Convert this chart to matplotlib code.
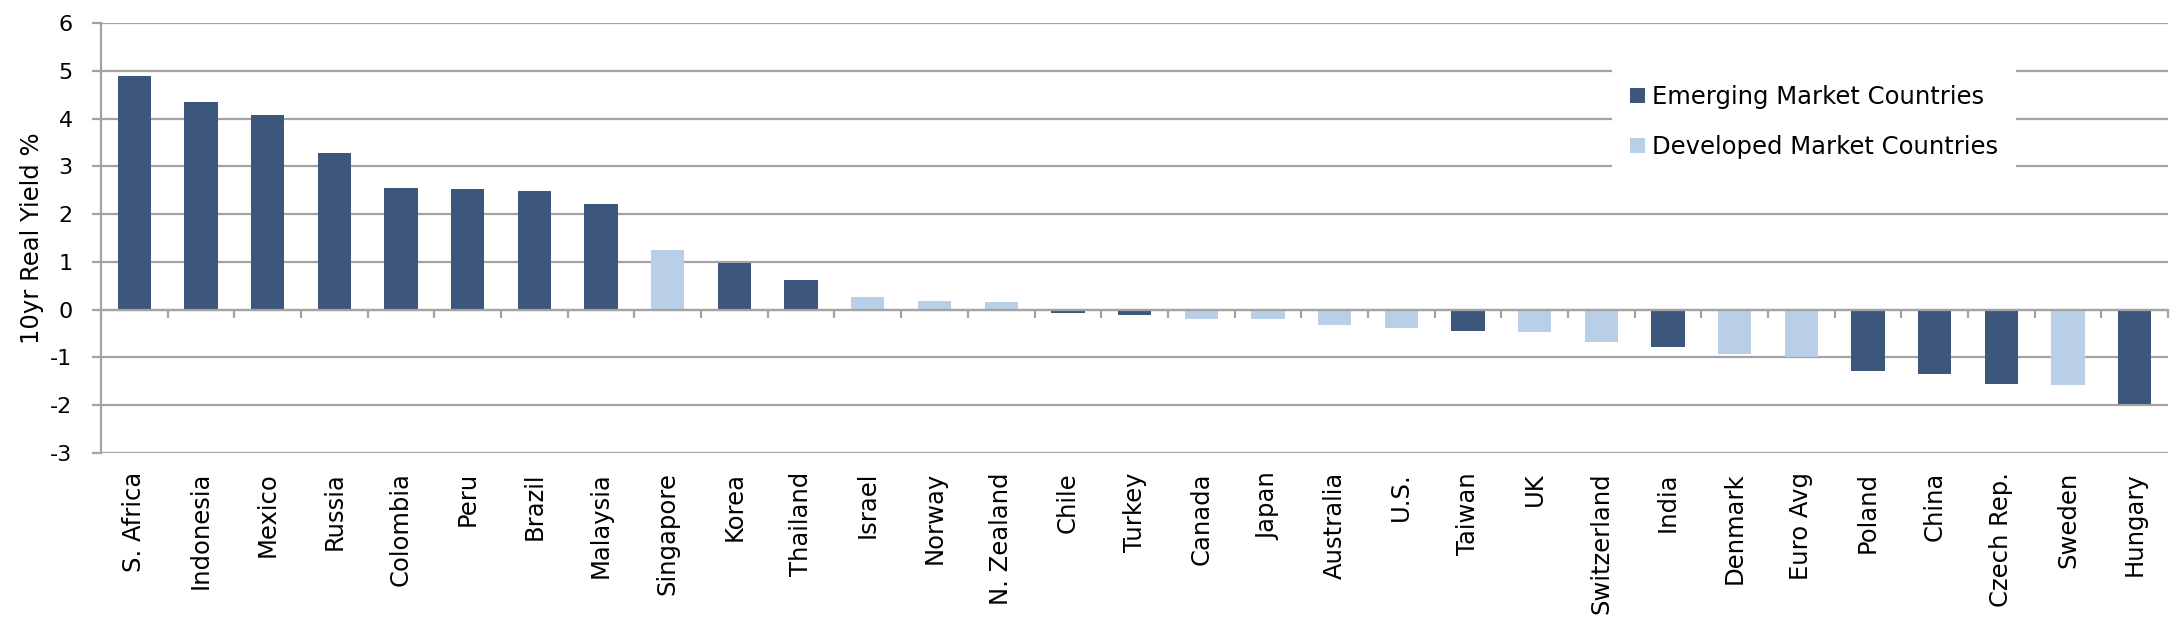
import matplotlib
matplotlib.use("Agg")
import matplotlib.pyplot as plt
from matplotlib.patches import Patch
import numpy as np

countries = ["S. Africa", "Indonesia", "Mexico", "Russia", "Colombia", "Peru", "Brazil",
             "Malaysia", "Singapore", "Korea", "Thailand", "Israel", "Norway", "N. Zealand",
             "Chile", "Turkey", "Canada", "Japan", "Australia", "U.S.", "Taiwan", "UK",
             "Switzerland", "India", "Denmark", "Euro Avg", "Poland", "China", "Czech Rep.",
             "Sweden", "Hungary"]
yields = [4.90, 4.34, 4.07, 3.28, 2.54, 2.52, 2.48, 2.22, 1.25, 0.98, 0.62, 0.26, 0.17, 0.16,
          -0.07, -0.12, -0.19, -0.20, -0.32, -0.38, -0.46, -0.47, -0.67, -0.79, -0.93, -0.99,
          -1.28, -1.35, -1.56, -1.59, -1.99]
groups = ["EM", "EM", "EM", "EM", "EM", "EM", "EM", "EM", "DM", "EM", "EM", "DM", "DM", "DM",
          "EM", "EM", "DM", "DM", "DM", "DM", "EM", "DM", "DM", "EM", "DM", "DM",
          "EM", "EM", "EM", "DM", "EM"]
yticks = [-3, -2, -1, 0, 1, 2, 3, 4, 5, 6]

EM_COLOR = "#3D577C"
DM_COLOR = "#B9CFE7"
GRID = "#A3A3A3"

plt.rcParams['font.family'] = ['DejaVu Sans']

fig = plt.figure(figsize=(21.78, 6.23), dpi=100)
ax = fig.add_axes([0.0464, 0.2734, 0.949, 0.6892])

x = np.arange(len(countries))
colors = [EM_COLOR if g == "EM" else DM_COLOR for g in groups]
ax.bar(x, yields, width=0.5, color=colors, zorder=3)

ax.set_xlim(-0.5, len(countries) - 0.5)
ax.set_ylim(-3, 6)
ax.set_yticks(yticks)
ax.set_yticklabels([str(t) for t in yticks])
ax.yaxis.grid(True, color=GRID, linewidth=1.6, zorder=0)
ax.set_axisbelow(True)

for s in ["top", "right"]:
    ax.spines[s].set_visible(False)
ax.spines["left"].set_color(GRID)
ax.spines["left"].set_linewidth(1.6)
ax.spines["bottom"].set_position(("data", 0))
ax.spines["bottom"].set_color(GRID)
ax.spines["bottom"].set_linewidth(1.6)
ax.spines["bottom"].set_zorder(4)

ax.tick_params(axis="y", colors=GRID, labelcolor="black", labelsize=16, length=6.5, width=1.6, pad=14)
ax.set_xticks(x)
ax.set_xticklabels([])
ax.tick_params(axis="x", which="major", length=0)
ax.set_xticks(np.arange(len(countries) + 1) - 0.5, minor=True)
ax.tick_params(axis="x", which="minor", length=6, width=1.6, color=GRID, direction="out")

sec = ax.secondary_xaxis("bottom")
sec.set_xticks(x)
sec.set_xticklabels(countries, rotation=90, fontsize=17.5)
sec.tick_params(length=0, pad=14)
sec.spines["bottom"].set_visible(False)

ax.set_ylabel("10yr Real Yield %", fontsize=17.5)
ax.yaxis.set_label_coords(-0.0277, 0.5)

handles = [Patch(facecolor=EM_COLOR, edgecolor="none", label="Emerging Market Countries"),
           Patch(facecolor=DM_COLOR, edgecolor="none", label="Developed Market Countries")]
leg = ax.legend(handles=handles, loc="center", bbox_to_anchor=(0.8287, 0.770),
                frameon=True, fancybox=False, fontsize=17.5, handlelength=0.6, handleheight=0.6,
                handletextpad=0.3, labelspacing=1.05, borderpad=0.75, borderaxespad=0)
leg.get_frame().set_facecolor("white")
leg.get_frame().set_edgecolor("none")
leg.get_frame().set_alpha(1)
leg.set_zorder(5)

fig.savefig("out.png", dpi=100, facecolor="white")
